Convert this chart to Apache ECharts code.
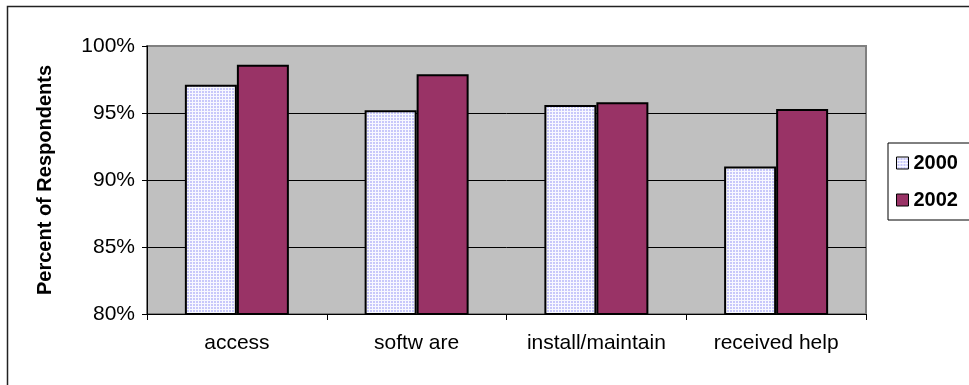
<!DOCTYPE html>
<html>
<head>
<meta charset="utf-8">
<script src="https://cdn.jsdelivr.net/npm/echarts@6/dist/echarts.min.js"></script>
<style>
  html, body { margin: 0; padding: 0; background: #fff; }
  #chart { width: 969px; height: 385px; }
</style>
</head>
<body>
<div id="chart"></div>
<script>
// Survey results: share of respondents per item, 2000 vs 2002
const categories = ['access', 'softw are', 'install/maintain', 'received help'];
const seriesNames = ['2000', '2002'];
const values2000 = [97.1, 95.2, 95.6, 91.0];
const values2002 = [98.6, 97.9, 95.8, 95.3];
const yTicks = [80, 85, 90, 95, 100];

// Light lavender dotted fill for the 2000 bars
function makeDotPattern() {
  const c = document.createElement('canvas');
  c.width = 3; c.height = 3;
  const g = c.getContext('2d');
  g.fillStyle = '#C8C8FA';
  g.fillRect(0, 0, 3, 3);
  g.fillStyle = '#F8F8FF';
  g.fillRect(0, 0, 3, 1);
  g.fillRect(0, 0, 1, 3);
  return c;
}

const chart = echarts.init(document.getElementById('chart'), null, { renderer: 'canvas' });
const font = 'Arial, "Liberation Sans", sans-serif';

chart.setOption({
  animation: false,
  backgroundColor: '#fff',
  graphic: [{
    type: 'rect',
    shape: { x: 7.5, y: 6.5, width: 1200, height: 1000 },
    style: { fill: 'none', stroke: '#222', lineWidth: 1.5 },
    silent: true
  }],
  grid: {
    left: 147, right: 103, top: 46, bottom: 71,
    show: true,
    backgroundColor: '#C0C0C0',
    borderColor: '#808080',
    borderWidth: 2
  },
  legend: {
    orient: 'vertical',
    left: 888, top: 143,
    padding: [10, 60, 10, 8],
    itemWidth: 12, itemHeight: 12,
    itemGap: 17,
    backgroundColor: '#fff',
    borderColor: '#000',
    borderWidth: 1,
    borderRadius: 0,
    icon: 'rect',
    data: seriesNames,
    textStyle: { fontFamily: font, fontSize: 20, fontWeight: 'bold', color: '#000' },
    itemStyle: { borderColor: '#000', borderWidth: 1 }
  },
  xAxis: {
    type: 'category',
    data: categories,
    axisLine: { lineStyle: { color: '#000', width: 1 } },
    axisTick: { show: true, length: 6, lineStyle: { color: '#000' } },
    axisLabel: { color: '#000', fontFamily: font, fontSize: 21, margin: 19, interval: 0, hideOverlap: false }
  },
  yAxis: {
    type: 'value',
    min: yTicks[0],
    max: yTicks[yTicks.length - 1],
    interval: yTicks[1] - yTicks[0],
    name: 'Percent of Respondents',
    nameLocation: 'middle',
    nameGap: 92,
    nameTextStyle: { fontFamily: font, fontSize: 20, fontWeight: 'bold', color: '#000' },
    axisLine: { show: true, lineStyle: { color: '#000', width: 1 } },
    axisTick: { show: true, length: 5, lineStyle: { color: '#000' } },
    axisLabel: { color: '#000', fontFamily: font, fontSize: 21, margin: 12, formatter: '{value}%' },
    splitLine: { show: true, showMinLine: false, showMaxLine: false, lineStyle: { color: '#000', width: 1 } }
  },
  series: [
    {
      name: seriesNames[0],
      type: 'bar',
      data: values2000,
      barWidth: 52,
      barGap: '0%',
      itemStyle: {
        color: { image: makeDotPattern(), repeat: 'repeat' },
        borderColor: '#000',
        borderWidth: 2
      }
    },
    {
      name: seriesNames[1],
      type: 'bar',
      data: values2002,
      barWidth: 52,
      barGap: '0%',
      itemStyle: { color: '#993366', borderColor: '#000', borderWidth: 2 }
    }
  ]
});
</script>
</body>
</html>
